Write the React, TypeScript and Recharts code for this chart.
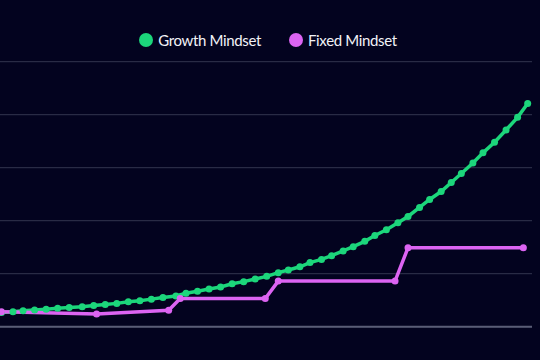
import { LineChart, Line, XAxis, YAxis, CartesianGrid, ReferenceLine } from 'recharts';

// days along the year
const growthDays = [
  0, 8, 15, 23, 31, 39, 47, 56, 64, 72, 80, 88, 96, 104, 112, 121, 128, 136, 144, 152, 160, 168, 176, 184,
  192, 199, 207, 214, 222, 229, 237, 244, 252, 259, 267, 275, 282, 290, 297, 305, 312, 319, 327, 334, 342, 350, 358, 365,
];
const growthValues = [
  2.7, 2.8, 3.0, 3.15, 3.3, 3.5, 3.6, 3.75, 4.0, 4.2, 4.4, 4.7, 4.9, 5.2, 5.5, 5.8, 6.3, 6.7, 7.1, 7.5, 8.1, 8.5, 9.0, 9.5,
  10.2, 10.7, 11.3, 12.1, 12.7, 13.4, 14.3, 15.1, 16.1, 17.2, 18.3, 19.6, 20.8, 22.5, 24.0, 25.5, 27.2, 28.9, 30.9, 32.8, 34.8, 37.1, 39.5, 42.1,
];
const fixedDays = [0, 66, 116, 124, 183, 192, 273, 282, 362];
const fixedValues = [2.8, 2.4, 3.1, 5.3, 5.3, 8.6, 8.6, 14.9, 14.9];
const yTicks = [0, 10, 20, 30, 40, 50];

const BG = '#03031f';
const GREEN = '#1cd67b';
const MAGENTA = '#dc64f2';

const series = [
  { name: 'Growth Mindset', color: GREEN, data: growthDays.map((day, i) => ({ day, value: growthValues[i] })) },
  { name: 'Fixed Mindset', color: MAGENTA, data: fixedDays.map((day, i) => ({ day, value: fixedValues[i] })) },
];

export default function App() {
  return (
    <div style={{ position: 'fixed', left: 0, top: 0, width: 540, height: 360, background: BG, overflow: 'hidden' }}>
      {/* legend */}
      <div
        style={{
          position: 'absolute',
          top: 31,
          left: 0,
          width: 536,
          display: 'flex',
          justifyContent: 'center',
          gap: 28,
          fontFamily: 'Lato, sans-serif',
          fontSize: 15,
          letterSpacing: -0.35,
          color: '#f2f2f7',
          lineHeight: '18px',
        }}
      >
        {series.map((s) => (
          <div key={s.name} style={{ display: 'flex', alignItems: 'center' }}>
            <span style={{ width: 14, height: 14, borderRadius: 7, background: s.color, marginRight: 5 }} />
            <span>{s.name}</span>
          </div>
        ))}
      </div>

      <LineChart width={540} height={360} margin={{ top: 61.7, right: 8, bottom: 33.3, left: 0 }}>
        <CartesianGrid vertical={false} stroke="#33354f" strokeWidth={1} />
        <XAxis type="number" dataKey="day" domain={[-1, 368]} hide />
        <YAxis type="number" domain={[0, 50]} ticks={yTicks} hide />
        <ReferenceLine y={0} stroke="#5a5d76" strokeWidth={2} />
        {series.map((s) => (
          <Line
            key={s.name}
            data={s.data}
            dataKey="value"
            name={s.name}
            type="linear"
            stroke={s.color}
            strokeWidth={3.5}
            dot={{ r: 3.5, fill: s.color, stroke: s.color, strokeWidth: 0 }}
            activeDot={false}
            isAnimationActive={false}
          />
        ))}
      </LineChart>
    </div>
  );
}
